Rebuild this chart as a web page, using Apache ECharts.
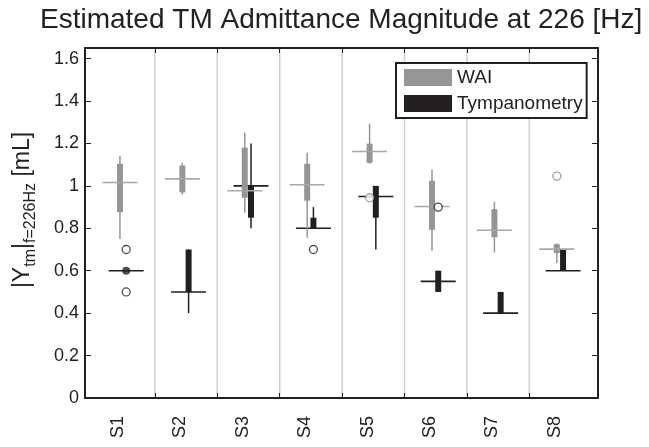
<!DOCTYPE html>
<html><head><meta charset="utf-8">
<script src="https://cdn.jsdelivr.net/npm/echarts@6/dist/echarts.min.js"></script>
<style>html,body{margin:0;padding:0;background:#fff}#c{width:649px;height:447px}</style>
</head><body><div id="c"></div>
<script>
const subjects = ['S1','S2','S3','S4','S5','S6','S7','S8'];
// box stats per subject: [low whisker, q1, median, q3, high whisker]
const waiBoxes = [
  [0.750, 0.877, 1.016, 1.104, 1.142],
  [0.958, 0.969, 1.033, 1.096, 1.109],
  [0.873, 0.944, 0.977, 1.180, 1.250],
  [0.755, 0.930, 1.005, 1.104, 1.156],
  [1.104, 1.109, 1.162, 1.199, 1.293],
  [0.694, 0.793, 0.903, 1.024, 1.076],
  [0.686, 0.758, 0.791, 0.890, 0.925],
  [0.636, 0.683, 0.702, 0.725, 0.730]
];
const tympBoxes = [
  [0.60, 0.60, 0.60, 0.60, 0.60],
  [0.40, 0.50, 0.50, 0.70, 0.70],
  [0.80, 0.85, 1.00, 1.00, 1.20],
  [0.80, 0.80, 0.80, 0.85, 0.90],
  [0.70, 0.85, 0.95, 1.00, 1.00],
  [0.50, 0.50, 0.55, 0.60, 0.60],
  [0.40, 0.40, 0.40, 0.50, 0.50],
  [0.60, 0.60, 0.60, 0.70, 0.70]
];
// outliers: [subject index, value]
const waiOutliers = [[4, 0.944], [7, 1.046]];
const tympOutliers = [[0, 0.70], [0, 0.50], [3, 0.70], [5, 0.90]];
const tympFilled = [[0, 0.60]];
const yTicks = [0, 0.2, 0.4, 0.6, 0.8, 1.0, 1.2, 1.4, 1.6];
const yTickLabels = ['0', '0.2', '0.4', '0.6', '0.8', '1', '1.2', '1.4', '1.6'];

const GRAY = '#959595', BLACK = '#231f20';
const WAI_OFF = 0.03, TYMP_OFF = 0.13, GRID_OFF = 0.59;
const FONT = "'Liberation Sans', Arial, Helvetica, sans-serif";

const subjPos = subjects.map((s, i) => i + 1);
const gridX = subjPos.slice(0, -1).map(p => p + GRID_OFF);

function boxData(boxes, off) { return boxes.map((b, i) => [subjPos[i] + off].concat(b)); }
function boxRender(color, medColor) {
  return function (params, api) {
    const x = api.value(0);
    const pL = api.coord([x, api.value(1)]), p1 = api.coord([x, api.value(2)]);
    const pM = api.coord([x, api.value(3)]), p3 = api.coord([x, api.value(4)]);
    const pH = api.coord([x, api.value(5)]);
    const bw = 6, mw = 35;
    return { type: 'group', children: [
      { type: 'line', shape: { x1: pL[0], y1: pL[1], x2: pH[0], y2: pH[1] }, style: { stroke: color, lineWidth: 1.5 } },
      { type: 'rect', shape: { x: p3[0] - bw / 2, y: p3[1], width: bw, height: Math.max(p1[1] - p3[1], 0) }, style: { fill: color } },
      { type: 'line', shape: { x1: pM[0] - mw / 2, y1: pM[1], x2: pM[0] + mw / 2, y2: pM[1] }, style: { stroke: medColor, lineWidth: 1.6 } }
    ]};
  };
}

const chart = echarts.init(document.getElementById('c'), null, { renderer: 'canvas' });
const xCommon = { type: 'value', min: 0.47, max: 8.69, splitLine: { show: false },
  axisLine: { onZero: false, lineStyle: { color: BLACK, width: 2 } } };
const yCommon = { type: 'value', min: 0, max: 1.65, splitLine: { show: false },
  axisLine: { show: true, lineStyle: { color: BLACK, width: 2 } } };

chart.setOption({
  animation: false,
  backgroundColor: '#fff',
  textStyle: { fontFamily: FONT },
  title: {
    text: 'Estimated TM Admittance Magnitude at 226 [Hz]',
    left: 35, top: 1,
    textStyle: { fontFamily: FONT, fontSize: 28, fontWeight: 'normal', color: '#222' }
  },
  grid: { left: 85, right: 51, top: 48, bottom: 49, containLabel: false },
  legend: {
    left: 396, top: 63, orient: 'vertical',
    itemWidth: 48, itemHeight: 17, itemGap: 7,
    padding: [5, 4, 5, 8],
    borderColor: BLACK, borderWidth: 2, backgroundColor: '#fff',
    textStyle: { fontFamily: FONT, fontSize: 19, color: '#222', lineHeight: 17 },
    data: [{ name: 'WAI', icon: 'rect' }, { name: 'Tympanometry', icon: 'rect' }]
  },
  xAxis: [
    Object.assign({}, xCommon, { position: 'bottom',
      axisTick: { inside: true, length: 5, customValues: gridX, lineStyle: { color: BLACK } },
      axisLabel: { customValues: subjPos, rotate: 90, margin: 18, fontSize: 18, color: '#222', fontFamily: FONT,
        formatter: v => subjects[Math.round(v) - 1] } }),
    Object.assign({}, xCommon, { position: 'top',
      axisTick: { inside: true, length: 5, customValues: gridX, lineStyle: { color: BLACK } },
      axisLabel: { show: false } })
  ],
  yAxis: [
    Object.assign({}, yCommon, { position: 'left',
      axisTick: { inside: true, length: 6, customValues: yTicks, lineStyle: { color: BLACK } },
      axisLabel: { customValues: yTicks, margin: 6, fontSize: 18, color: '#222', fontFamily: FONT,
        formatter: v => yTickLabels[yTicks.findIndex(t => Math.abs(t - v) < 1e-6)] },
      name: '{m||Y}{s|tm}{m||}{s|f=226Hz}{m| [mL]}',
      nameLocation: 'middle', nameGap: 50, nameRotate: 90,
      nameTextStyle: { fontFamily: FONT, color: '#222', padding: [0, 0, 0, 26],
        rich: {
          m: { fontSize: 23, lineHeight: 24, verticalAlign: 'top', fontFamily: FONT, color: '#222' },
          s: { fontSize: 16, lineHeight: 16, padding: [12, 0, 0, 0], verticalAlign: 'top', fontFamily: FONT, color: '#222' }
        } } }),
    Object.assign({}, yCommon, { position: 'right',
      axisTick: { inside: true, length: 6, customValues: yTicks, lineStyle: { color: BLACK } },
      axisLabel: { show: false } })
  ],
  series: [
    { type: 'custom', name: 'grid', z: 0, silent: true, data: gridX.map(x => [x]),
      renderItem: function (params, api) {
        const a = api.coord([api.value(0), 0]), b = api.coord([api.value(0), 1.65]);
        return { type: 'line', shape: { x1: a[0], y1: a[1], x2: b[0], y2: b[1] }, style: { stroke: '#cfcfcf', lineWidth: 1.5 } };
      } },
    { type: 'custom', name: 'Tympanometry', z: 2, itemStyle: { color: BLACK },
      data: boxData(tympBoxes, TYMP_OFF), renderItem: boxRender(BLACK, BLACK) },
    { type: 'custom', name: 'WAI', z: 3, itemStyle: { color: GRAY },
      data: boxData(waiBoxes, WAI_OFF), renderItem: boxRender(GRAY, '#a8a8a8') },
    { type: 'scatter', name: 'WAI outliers', z: 4, symbol: 'circle', symbolSize: 8,
      itemStyle: { color: '#fff', borderColor: '#8a8a8a', borderWidth: 1.3 },
      data: waiOutliers.map(o => [subjPos[o[0]] + WAI_OFF, o[1]]) },
    { type: 'scatter', name: 'Tymp outliers', z: 4, symbol: 'circle', symbolSize: 8,
      itemStyle: { color: '#fff', borderColor: BLACK, borderWidth: 1.3 },
      data: tympOutliers.map(o => [subjPos[o[0]] + TYMP_OFF, o[1]]) },
    { type: 'scatter', name: 'Tymp marker', z: 5, symbol: 'circle', symbolSize: 8,
      itemStyle: { color: BLACK },
      data: tympFilled.map(o => [subjPos[o[0]] + TYMP_OFF, o[1]]) }
  ]
});
</script></body></html>
